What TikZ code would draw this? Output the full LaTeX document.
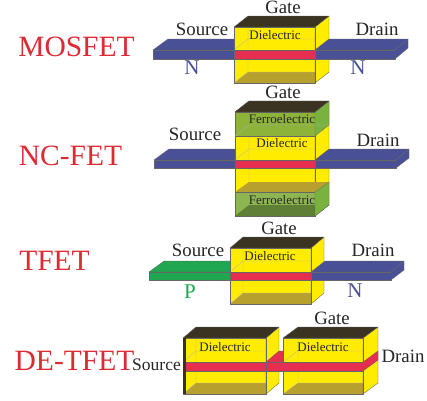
\documentclass[tikz,border=0pt]{standalone}
\usepackage{fontspec}
\setmainfont{Liberation Serif}
\definecolor{titlered}{HTML}{DE2A33}
\definecolor{yel}{HTML}{FFEC00}
\definecolor{olive}{HTML}{B8A02E}
\definecolor{topdark}{HTML}{3A3322}
\definecolor{chblue}{HTML}{4A5096}
\definecolor{band}{HTML}{E62E50}
\definecolor{pgreen}{HTML}{1FA64F}
\definecolor{ferro}{HTML}{8DB33A}
\definecolor{ferroS}{HTML}{79B23F}
\definecolor{ferroL}{HTML}{8DB552}
\definecolor{ferroD}{HTML}{5F7F35}
\tikzset{
  face/.style={draw=black!60,line width=0.3pt,line join=round},
  ghost/.style={draw=black!30,line width=0.3pt},
  titletext/.style={text=titlered,font=\fontsize{29.5}{30}\selectfont,inner sep=0pt},
  lab/.style={text=black!85,font=\fontsize{18.8}{19}\selectfont,inner sep=0pt},
  dopeN/.style={text=chblue,font=\fontsize{21}{21}\selectfont,inner sep=0pt},
  dopeP/.style={text=pgreen,font=\fontsize{21}{21}\selectfont,inner sep=0pt},
  small/.style={text=black!85,font=\fontsize{13}{13}\selectfont,inner sep=0pt},
}
% #1 x left, #2 x right, #3 depth x, #4 top y, #5 bottom y, #6 band top y, #7 band bottom y
\newcommand{\fetbody}[7]{%
  \fill[yel] (#1,#4) rectangle (#2,#5);
  \fill[olive] (#1,#5) -- (#2,#5) -- (#2+#3,#5-11) -- (#1+#3,#5-11) -- cycle;
  \draw[ghost] (#1+#3,#4-11) -- (#1+#3,#5-11) -- (#2+#3,#5-11) (#1,#5) -- (#1+#3,#5-11);
  \draw[ghost] (#1,#6) -- (#1+#3,#6-11) -- (#2+#3,#6-11);
  \fill[face,fill=yel] (#2,#4) -- (#2+#3,#4-11) -- (#2+#3,#5-11) -- (#2,#5) -- cycle;
  \fill[face,fill=topdark] (#1,#4) -- (#2,#4) -- (#2+#3,#4-11) -- (#1+#3,#4-11) -- cycle;
  \draw[face] (#1,#4) rectangle (#2,#5);
}
\newcommand{\leftarm}[5]{%
  \fill[face,fill=#5] (#1,#3) -- (#2,#3) -- (#2,#3-11) -- (#1+15,#3-11) -- cycle;
  \fill[face,fill=#5] (#1,#3) rectangle (#2,#4);
}
\newcommand{\rightarm}[5]{%
  \fill[face,fill=#5] (#1,#3) -- (#2,#3) -- (#2+13,#3-11) -- (#1+14,#3-11) -- cycle;
  \fill[face,fill=#5] (#1,#3) rectangle (#2,#4);
  \fill[face,fill=#5] (#2,#3) -- (#2+13,#3-11) -- (#2+13,#3-2) -- (#2,#4) -- cycle;
}
\newcommand{\chband}[4]{%
  \fill[face,fill=band] (#1,#3) rectangle (#2,#4);
}
\begin{document}
\begin{tikzpicture}[x=1pt,y=-1pt]
\useasboundingbox (0,0) rectangle (427,400);
\fill[white] (0,0) rectangle (427,400);

% MOSFET
\leftarm{153}{234}{50}{59}{chblue}
\fetbody{234}{315}{14}{27}{83}{50}{59}
\rightarm{315}{395}{50}{59}{chblue}
\chband{234}{315}{50}{59}
\node[titletext] (t1) at (76.5,47) {MOSFET};
\node[lab] (g1) at (283,7) {Gate};
\node[lab] (s1) at (202,29) {Source};
\node[lab] (d1) at (377,29) {Drain};
\node[dopeN] (n1a) at (192,68) {N};
\node[dopeN] (n1b) at (358,68) {N};
\node[small] (k1) at (275,35) {Dielectric};

% NC-FET
\leftarm{154}{235}{160}{168}{chblue}
\fetbody{235}{315}{14}{112}{216}{160}{168}
\fill[olive] (235,192) -- (315,192) -- (329,182) -- (249,182) -- cycle;
\fill[ferro,face] (235,112) rectangle (315,136);
\fill[face,fill=ferroS] (315,112) -- (329,101) -- (329,125) -- (315,136) -- cycle;
\fill[face,fill=topdark] (235,112) -- (315,112) -- (329,101) -- (249,101) -- cycle;
\fill[ferroL,face] (235,192) rectangle (315,216);
\fill[ferroD] (235,216) -- (315,216) -- (329,205) -- (249,205) -- cycle;
\fill[face,fill=ferroS] (315,192) -- (329,182) -- (329,205) -- (315,216) -- cycle;
\draw[ghost] (235,136) -- (249,125) -- (329,125);
\rightarm{315}{396}{160}{168}{chblue}
\chband{235}{315}{160}{168}
\node[titletext] (t2) at (70.5,156) {NC-FET};
\node[lab] (g2) at (283,92) {Gate};
\node[lab] (s2) at (195,134) {Source};
\node[lab] (d2) at (378,140) {Drain};
\node[small] (f2a) at (282,119) {Ferroelectric};
\node[small] (k2) at (282,143) {Dielectric};
\node[small] (f2b) at (282,200) {Ferroelectric};

% TFET
\leftarm{149}{230}{272}{280}{pgreen}
\fetbody{230}{311}{13}{248}{304}{272}{280}
\rightarm{311}{391}{272}{280}{chblue}
\chband{230}{311}{272}{280}
\node[titletext] (t3) at (54.5,260.5) {TFET};
\node[lab] (g3) at (279,228) {Gate};
\node[lab] (s3) at (198,250) {Source};
\node[lab] (d3) at (373,250) {Drain};
\node[dopeP] (p3) at (190,292) {P};
\node[dopeN] (n3) at (355,291) {N};
\node[small] (k3) at (270,256) {Dielectric};

% DE-TFET
\fetbody{183}{266}{13}{338}{394}{362}{371}
\fill[band,draw=black!60,line width=0.3pt] (266,362) -- (279,351) -- (283,351) -- (283,371) -- (266,371) -- cycle;
\chband{183}{266}{362}{371}
\fetbody{283}{363}{15}{338}{394}{362}{371}
\chband{266}{363}{362}{371}
\fill[face,fill=band] (363,362) -- (378,351) -- (378,360) -- (363,371) -- cycle;
\fill[topdark] (183,338) rectangle (185.5,394);
\node[titletext] (t4) at (74.5,360.5) {DE-TFET};
\node[lab] (g4) at (332,318) {Gate};
\node[lab,font=\fontsize{17.5}{18}\selectfont] (s4) at (156.5,365) {Source};
\node[lab] (d4) at (403,356) {Drain};
\node[small] (k4a) at (225,347) {Dielectric};
\node[small] (k4b) at (323,347) {Dielectric};
\end{tikzpicture}
\end{document}
